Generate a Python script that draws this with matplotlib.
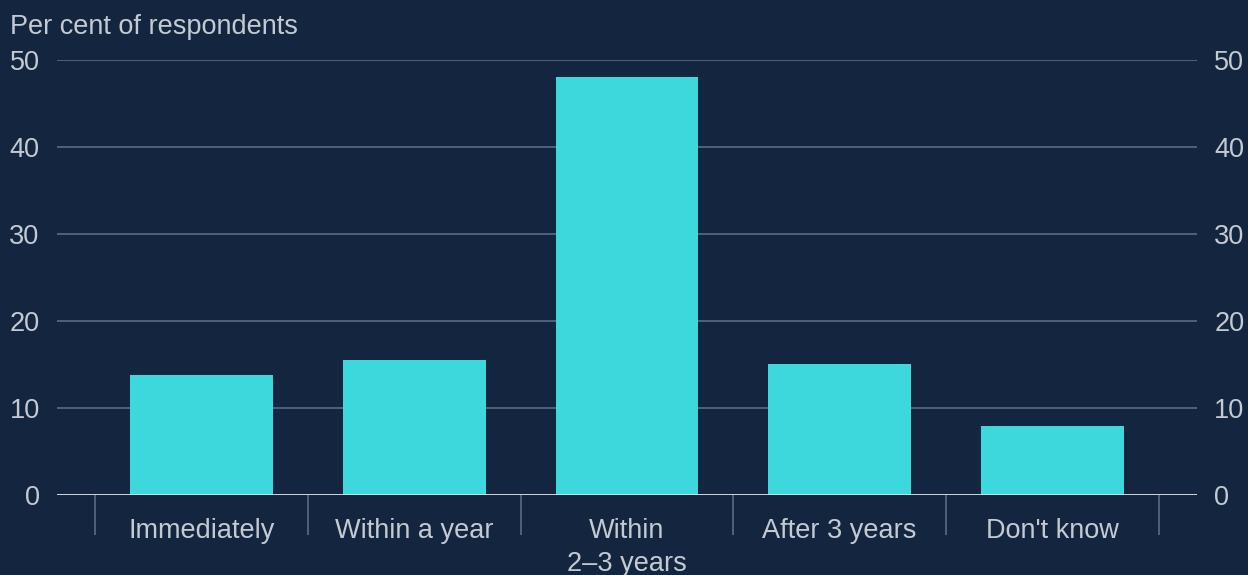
import matplotlib
matplotlib.use("Agg")
import matplotlib.pyplot as plt
import numpy as np

categories = ["Immediately", "Within a year", "Within\n2\u20133 years", "After 3 years", "Don't know"]
values = [13.8, 15.5, 48.0, 15.1, 7.9]
yticks = [0, 10, 20, 30, 40, 50]

BG = "#14263f"
BAR = "#3dd8db"
GRID = "#5b6b80"
TXT = "#c4cad3"
FS = 19.5

plt.rcParams['font.family'] = ['Liberation Sans', 'DejaVu Sans']

fig = plt.figure(figsize=(12.48, 5.75), dpi=100, facecolor=BG)
ax = fig.add_axes([57/1248, 1-495/575, (1197-57)/1248, (495-60)/575])
ax.set_facecolor(BG)

x = np.arange(len(categories))
ax.bar(x, values, width=0.67, color=BAR, zorder=3)

ax.set_xlim(-0.68, len(categories) - 1 + 0.68)
ax.set_ylim(0, 50)
ax.set_yticks(yticks)
ax.yaxis.grid(True, color=GRID, linewidth=1.2, zorder=0)
ax.axhline(0, color="#dde1e6", linewidth=2, zorder=4)

for s in ax.spines.values():
    s.set_visible(False)

ax.tick_params(axis='y', which='both', length=0, labelsize=FS, labelcolor=TXT,
               left=True, right=True, labelleft=True, labelright=True, pad=12.5)

ax.set_xticks(x)
ax.set_xticklabels(categories, fontsize=FS, color=TXT, linespacing=1.35)
ax.tick_params(axis='x', which='major', length=0, pad=16.5)
ax.set_xticks(np.arange(-0.5, len(categories), 1.0), minor=True)
ax.tick_params(axis='x', which='minor', length=29, width=1.2, color=GRID)

fig.text(10/1248, 1-27/575, "Per cent of respondents", fontsize=FS, color=TXT,
         ha='left', va='center')

fig.savefig("out.png", dpi=100, facecolor=BG)
